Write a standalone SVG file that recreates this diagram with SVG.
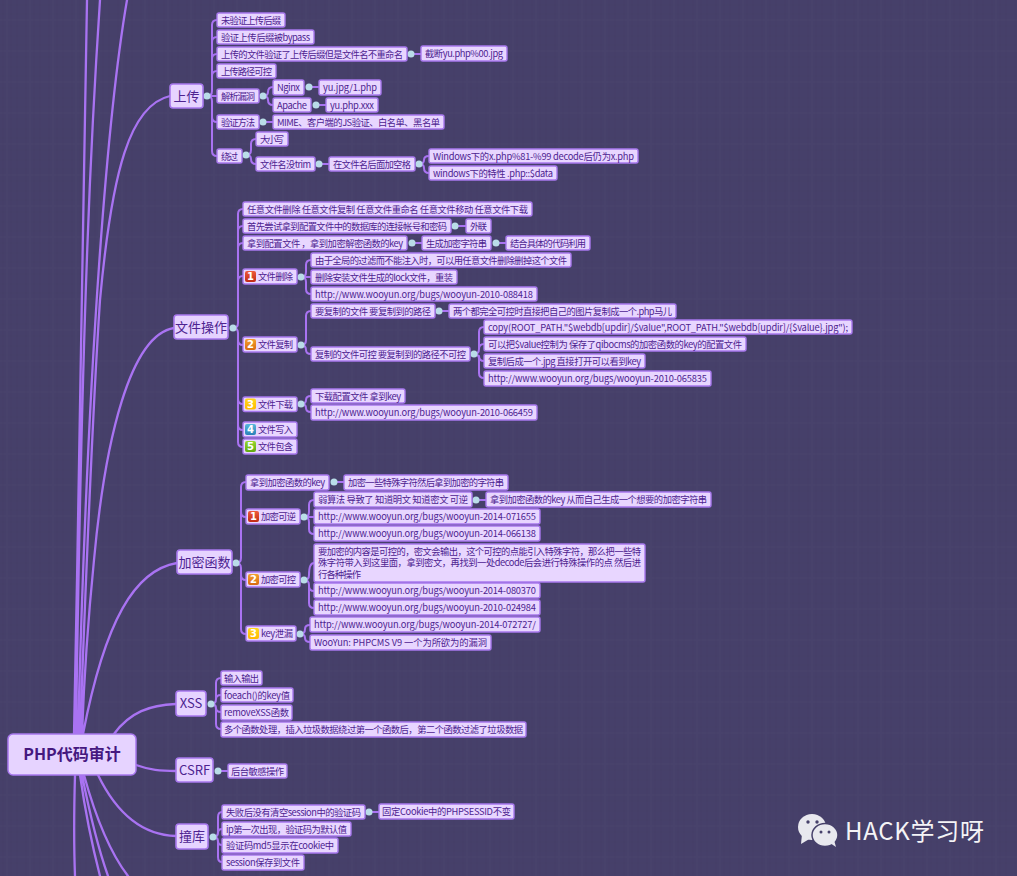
<svg xmlns="http://www.w3.org/2000/svg" width="1017" height="876" viewBox="0 0 1017 876">
<style>
text{font-family:"Noto Sans CJK SC","DejaVu Sans",sans-serif;fill:#4d2390;font-size:9.300px}
.n rect{fill:#e8d6ff;stroke:#a878ee;stroke-width:1.400}
.m rect{fill:#e6d3ff;stroke:#a878ee;stroke-width:1.600}
.m text{font-size:13px;text-anchor:middle}
.c{fill:none;stroke:#a973f2;stroke-width:2;stroke-linecap:round}
.t{stroke-width:2.300}
.d{fill:#b9dde8}
.n .k{stroke:none}
.i text{fill:#fff;font-size:10px;font-weight:700;text-anchor:middle;font-family:"DejaVu Sans",sans-serif}
.i text.l{fill:#4d2390;font-size:9.300px;font-weight:400;text-anchor:start;font-family:"Noto Sans CJK SC",sans-serif}
.n .g1{fill:url(#g1)}.n .g2{fill:url(#g2)}.n .g3{fill:url(#g3)}.n .g4{fill:url(#g4)}.n .g5{fill:url(#g5)}
</style>
<defs>
<pattern id="w1" width="23" height="31" patternUnits="userSpaceOnUse">
<path d="M3 0V31M11 0V31M17 0V31" stroke="#3e3860" stroke-width="1" opacity=".2"/>
<path d="M0 5H23M0 14H23M0 26H23" stroke="#3e3860" stroke-width="1" opacity=".18"/>
<path d="M7 0V31M0 20H23" stroke="#544e78" stroke-width="1" opacity=".18"/>
</pattern>
<linearGradient id="g1" x1="0" y1="0" x2="0" y2="1"><stop offset="0" stop-color="#ee5a3c"/><stop offset="1" stop-color="#c02a14"/></linearGradient>
<linearGradient id="g2" x1="0" y1="0" x2="0" y2="1"><stop offset="0" stop-color="#f2a030"/><stop offset="1" stop-color="#d86a10"/></linearGradient>
<linearGradient id="g3" x1="0" y1="0" x2="0" y2="1"><stop offset="0" stop-color="#ffd820"/><stop offset="1" stop-color="#ffb800"/></linearGradient>
<linearGradient id="g4" x1="0" y1="0" x2="0" y2="1"><stop offset="0" stop-color="#58b8dc"/><stop offset="1" stop-color="#2a80b8"/></linearGradient>
<linearGradient id="g5" x1="0" y1="0" x2="0" y2="1"><stop offset="0" stop-color="#98d830"/><stop offset="1" stop-color="#60a810"/></linearGradient>
</defs>
<rect width="1017" height="876" fill="#46406a"/>
<rect width="1017" height="876" fill="url(#w1)"/>

<g id="connectors">
<path class="c t" d="M87 0C84 120 80 450 74 734M100 0C92 120 82 300 76 734M127 0C108 110 88 350 78 734M170 96C130 105 112 170 100 300C92 420 85 600 80 734M174 328C130 335 105 440 94 560C88 620 84 680 82 734M177 563C135 570 105 620 83 734M176 704C150 705 130 712 114 734M136 765C150 770 160 771 176 771M98 775C115 810 140 835 176 836M75 775C74 810 74 850 75 876M80 775C85 810 92 845 100 876M82 775C89 810 97 845 108 876M84 775C95 815 108 850 128 876"/>
<path class="c" d="M207 96H217M207 96Q212 96 212 91V25Q212 20 217 20M212 42Q212 37 217 37M212 59Q212 54 217 54M212 76Q212 71 217 71M207 96Q212 96 212 101V151Q212 156 217 156M212 117Q212 122 217 122"/>
<path class="c" d="M263 96Q268 96 268 92Q268 87 273 87M263 96Q268 96 268 100Q268 105 273 105M309 87H319M316 105H326M411 54H421M263 122H273M319 164H329"/>
<path class="c" d="M246 155Q251 155 251 150V144Q251 139 256 139M246 155Q251 155 251 159Q251 164 256 164M419 164Q424 164 424 160Q424 156 429 156M419 164Q424 164 424 168Q424 173 429 173"/>
<path class="c" d="M233 328Q238 328 238 323V214Q238 209 243 209M238 231Q238 226 243 226M238 248Q238 243 243 243M238 281Q238 276 243 276M233 328Q238 328 238 333V442Q238 447 243 447M238 340Q238 345 243 345M238 399Q238 404 243 404M238 425Q238 430 243 430"/>
<path class="c" d="M455 226H466M412 243H422M496 243H506"/>
<path class="c" d="M301 277Q306 277 306 272V265Q306 260 311 260M301 277H311M301 277Q306 277 306 282V289Q306 294 311 294"/>
<path class="c" d="M301 345Q306 345 306 340V316Q306 311 311 311M301 345Q306 345 306 350Q306 354 311 354M439 311H449"/>
<path class="c" d="M474 354Q479 354 479 349V332Q479 327 484 327M479 349Q479 344 484 344M479 356Q479 361 484 361M474 354Q479 354 479 359V373Q479 378 484 378"/>
<path class="c" d="M301 404Q306 404 306 400Q306 396 311 396M301 404Q306 404 306 408Q306 412 311 412"/>
<path class="c" d="M236 563Q241 563 241 558V487Q241 482 246 482M241 512Q241 517 246 517M236 563Q241 563 241 568V629Q241 634 246 634M241 575Q241 580 246 580M334 482H344M476 500H486"/>
<path class="c" d="M304 517Q309 517 309 512V505Q309 500 314 500M304 517H314M304 517Q309 517 309 522V529Q309 534 314 534"/>
<path class="c" d="M304 580Q309 580 309 575Q309 563 314 563M304 580Q309 580 309 585V586Q309 591 314 591M309 585V603Q309 608 314 608"/>
<path class="c" d="M300 634Q305 634 305 629Q305 625 310 625M300 634Q305 634 305 638Q305 642 310 642"/>
<path class="c" d="M211 704Q216 704 216 699V683Q216 678 221 678M211 704Q216 704 216 699Q216 695 221 695M211 704Q216 704 216 708Q216 712 221 712M211 704Q216 704 216 709V724Q216 729 221 729M218 771H228"/>
<path class="c" d="M213 837Q218 837 218 832V817Q218 812 222 812M213 837Q218 837 218 833Q218 829 222 829M213 837Q218 837 218 841Q218 845 222 845M213 837Q218 837 218 842V857Q218 862 222 862M369 812H379"/>
<g class="d"><circle cx="207" cy="96" r="3.500"/><circle cx="263" cy="96" r="3.500"/><circle cx="309" cy="87" r="3.500"/><circle cx="316" cy="105" r="3.500"/><circle cx="411" cy="54" r="3.500"/><circle cx="263" cy="122" r="3.500"/><circle cx="246" cy="155" r="3.500"/><circle cx="319" cy="164" r="3.500"/><circle cx="419" cy="164" r="3.500"/><circle cx="233" cy="328" r="3.500"/><circle cx="455" cy="226" r="3.500"/><circle cx="412" cy="243" r="3.500"/><circle cx="496" cy="243" r="3.500"/><circle cx="301" cy="277" r="3.500"/><circle cx="301" cy="345" r="3.500"/><circle cx="439" cy="311" r="3.500"/><circle cx="474" cy="354" r="3.500"/><circle cx="301" cy="404" r="3.500"/><circle cx="236" cy="563" r="3.500"/><circle cx="334" cy="482" r="3.500"/><circle cx="304" cy="517" r="3.500"/><circle cx="476" cy="500" r="3.500"/><circle cx="304" cy="580" r="3.500"/><circle cx="300" cy="634" r="3.500"/><circle cx="211" cy="704" r="3.500"/><circle cx="218" cy="771" r="3.500"/><circle cx="213" cy="837" r="3.500"/><circle cx="369" cy="812" r="3.500"/></g>
</g>

<g id="root"><rect x="8" y="734" width="128" height="41" rx="5" fill="#e6d3ff" stroke="#a878ee" stroke-width="1.5"/><text x="72" y="760" style="font-size:16px;font-weight:700;text-anchor:middle;fill:#45187f">PHP代码审计</text></g>

<g class="m" id="m1"><rect x="170" y="84" width="33" height="24" rx="3"/><text x="186.500" y="100.500">上传</text></g>
<g class="m" id="m2"><rect x="174" y="315" width="54" height="24" rx="3"/><text x="201" y="332">文件操作</text></g>
<g class="m" id="m3"><rect x="177" y="550" width="55" height="24" rx="3"/><text x="204.500" y="567">加密函数</text></g>
<g class="m" id="m4"><rect x="176" y="691" width="30" height="25" rx="3"/><text x="191" y="708">XSS</text></g>
<g class="m" id="m5"><rect x="176" y="758" width="37" height="24" rx="3"/><text x="194.500" y="775">CSRF</text></g>
<g class="m" id="m6"><rect x="176" y="824" width="32" height="25" rx="3"/><text x="192" y="841">撞库</text></g>

<g class="n" id="a1"><rect x="217" y="13" width="68" height="14" rx="2"/><text x="221" y="23.500" textLength="60">未验证上传后缀</text></g>
<g class="n" id="a2"><rect x="217" y="30" width="97" height="14" rx="2"/><text x="221" y="40.500" textLength="89">验证上传后缀被bypass</text></g>
<g class="n" id="a3"><rect x="217" y="47" width="190" height="14" rx="2"/><text x="221" y="57.500" textLength="182">上传的文件验证了上传后缀但是文件名不重命名</text></g>
<g class="n" id="a4"><rect x="421" y="46" width="86" height="15" rx="2"/><text x="425" y="57" textLength="78">截断yu.php%00.jpg</text></g>
<g class="n" id="a5"><rect x="217" y="64" width="59" height="14" rx="2"/><text x="221" y="74.500" textLength="51">上传路径可控</text></g>
<g class="n" id="a6"><rect x="217" y="89" width="42" height="14" rx="2"/><text x="221" y="99.500" textLength="34">解析漏洞</text></g>
<g class="n" id="a7"><rect x="273" y="80" width="31" height="15" rx="2"/><text x="277" y="91" textLength="23">Nginx</text></g>
<g class="n" id="a8"><rect x="319" y="80" width="62" height="15" rx="2"/><text x="323" y="91" textLength="54">yu.jpg/1.php</text></g>
<g class="n" id="a9"><rect x="273" y="98" width="38" height="14" rx="2"/><text x="277" y="108.500" textLength="30">Apache</text></g>
<g class="n" id="a10"><rect x="326" y="98" width="52" height="14" rx="2"/><text x="330" y="108.500" textLength="44">yu.php.xxx</text></g>
<g class="n" id="a11"><rect x="217" y="115" width="42" height="14" rx="2"/><text x="221" y="125.500" textLength="34">验证方法</text></g>
<g class="n" id="a12"><rect x="273" y="115" width="171" height="14" rx="2"/><text x="277" y="125.500" textLength="163">MIME、客户端的JS验证、白名单、黑名单</text></g>
<g class="n" id="a13"><rect x="217" y="149" width="25" height="14" rx="2"/><text x="221" y="159.500" textLength="17">绕过</text></g>
<g class="n" id="a14"><rect x="256" y="132" width="32" height="14" rx="2"/><text x="260" y="142.500" textLength="24">大小写</text></g>
<g class="n" id="a15"><rect x="256" y="157" width="59" height="14" rx="2"/><text x="260" y="167.500" textLength="51">文件名没trim</text></g>
<g class="n" id="a16"><rect x="329" y="157" width="86" height="14" rx="2"/><text x="333" y="167.500" textLength="78">在文件名后面加空格</text></g>
<g class="n" id="a17"><rect x="429" y="149" width="209" height="14" rx="2"/><text x="433" y="159.500" textLength="201">Windows下的x.php%81-%99 decode后仍为x.php</text></g>
<g class="n" id="a18"><rect x="429" y="166" width="128" height="14" rx="2"/><text x="433" y="176.500" textLength="120">windows下的特性 .php::$data</text></g>

<g class="n" id="b1"><rect x="243" y="202" width="289" height="14" rx="2"/><text x="247" y="212.500" textLength="281">任意文件删除 任意文件复制 任意文件重命名 任意文件移动 任意文件下载</text></g>
<g class="n" id="b2"><rect x="243" y="219" width="208" height="14" rx="2"/><text x="247" y="229.500" textLength="200">首先尝试拿到配置文件中的数据库的连接帐号和密码</text></g>
<g class="n" id="b3"><rect x="466" y="219" width="25" height="14" rx="2"/><text x="470" y="229.500" textLength="17">外联</text></g>
<g class="n" id="b4"><rect x="243" y="236" width="164" height="14" rx="2"/><text x="247" y="246.500" textLength="156">拿到配置文件 ，拿到加密解密函数的key</text></g>
<g class="n" id="b5"><rect x="422" y="236" width="69" height="14" rx="2"/><text x="426" y="246.500" textLength="61">生成加密字符串</text></g>
<g class="n" id="b6"><rect x="506" y="236" width="84" height="14" rx="2"/><text x="510" y="246.500" textLength="76">结合具体的代码利用</text></g>
<g class="n i" id="b7"><rect x="243" y="269" width="54" height="15" rx="2"/><rect class="k g1" x="245" y="271" width="11" height="11" rx="2"/><text x="250.500" y="280">1</text><text class="l" x="258" y="280" textLength="35">文件删除</text></g>
<g class="n" id="b8"><rect x="311" y="253" width="260" height="14" rx="2"/><text x="315" y="263.500" textLength="252">由于全局的过滤而不能注入时，可以用任意文件删除删掉这个文件</text></g>
<g class="n" id="b9"><rect x="311" y="270" width="146" height="14" rx="2"/><text x="315" y="280.500" textLength="138">删除安装文件生成的lock文件，重装</text></g>
<g class="n" id="b10"><rect x="311" y="287" width="226" height="14" rx="2"/><text x="315" y="297.500" textLength="218">http://www.wooyun.org/bugs/wooyun-2010-088418</text></g>
<g class="n i" id="b11"><rect x="243" y="337" width="54" height="15" rx="2"/><rect class="k g2" x="245" y="339" width="11" height="11" rx="2"/><text x="250.500" y="348">2</text><text class="l" x="258" y="348" textLength="35">文件复制</text></g>
<g class="n" id="b12"><rect x="311" y="304" width="124" height="14" rx="2"/><text x="315" y="314.500" textLength="116">要复制的文件 要复制到的路径</text></g>
<g class="n" id="b13"><rect x="449" y="304" width="227" height="14" rx="2"/><text x="453" y="314.500" textLength="219">两个都完全可控时直接把自己的图片复制成一个.php马儿</text></g>
<g class="n" id="b14"><rect x="311" y="347" width="159" height="14" rx="2"/><text x="315" y="357.500" textLength="151">复制的文件可控 要复制到的路径不可控</text></g>
<g class="n" id="b15"><rect x="484" y="320" width="368" height="14" rx="2"/><text x="488" y="330.500" textLength="360">copy(ROOT_PATH."$webdb[updir]/$value",ROOT_PATH."$webdb[updir]/{$value}.jpg");</text></g>
<g class="n" id="b16"><rect x="484" y="337" width="262" height="14" rx="2"/><text x="488" y="347.500" textLength="254">可以把$value控制为 保存了qibocms的加密函数的key的配置文件</text></g>
<g class="n" id="b17"><rect x="484" y="354" width="161" height="14" rx="2"/><text x="488" y="364.500" textLength="153">复制后成一个.jpg 直接打开可以看到key</text></g>
<g class="n" id="b18"><rect x="484" y="371" width="227" height="15" rx="2"/><text x="488" y="382" textLength="219">http://www.wooyun.org/bugs/wooyun-2010-065835</text></g>
<g class="n i" id="b19"><rect x="243" y="397" width="54" height="14.500" rx="2"/><rect class="k g3" x="245" y="398.500" width="11" height="11" rx="2"/><text x="250.500" y="407.500">3</text><text class="l" x="258" y="408" textLength="35">文件下载</text></g>
<g class="n" id="b20"><rect x="311" y="389" width="94" height="14" rx="2"/><text x="315" y="399.500" textLength="86">下载配置文件 拿到key</text></g>
<g class="n" id="b21"><rect x="311" y="405" width="226" height="15" rx="2"/><text x="315" y="416" textLength="218">http://www.wooyun.org/bugs/wooyun-2010-066459</text></g>
<g class="n i" id="b22"><rect x="243" y="422" width="54" height="15" rx="2"/><rect class="k g4" x="245" y="424" width="11" height="11" rx="2"/><text x="250.500" y="433">4</text><text class="l" x="258" y="433" textLength="35">文件写入</text></g>
<g class="n i" id="b23"><rect x="243" y="439" width="54" height="15" rx="2"/><rect class="k g5" x="245" y="441" width="11" height="11" rx="2"/><text x="250.500" y="450">5</text><text class="l" x="258" y="450" textLength="35">文件包含</text></g>

<g class="n" id="c1"><rect x="246" y="475" width="83" height="15" rx="2"/><text x="250" y="486" textLength="75">拿到加密函数的key</text></g>
<g class="n" id="c2"><rect x="344" y="475" width="164" height="15" rx="2"/><text x="348" y="486" textLength="156">加密一些特殊字符然后拿到加密的字符串</text></g>
<g class="n i" id="c3"><rect x="246" y="509" width="54" height="15" rx="2"/><rect class="k g1" x="248" y="511" width="11" height="11" rx="2"/><text x="253.500" y="520">1</text><text class="l" x="261" y="520" textLength="35">加密可逆</text></g>
<g class="n" id="c4"><rect x="314" y="492" width="158" height="15" rx="2"/><text x="318" y="503" textLength="150">弱算法 导致了 知道明文 知道密文 可逆</text></g>
<g class="n" id="c5"><rect x="486" y="492" width="225" height="15" rx="2"/><text x="490" y="503" textLength="217">拿到加密函数的key 从而自己生成一个想要的加密字符串</text></g>
<g class="n" id="c6"><rect x="314" y="509" width="226" height="15" rx="2"/><text x="318" y="520" textLength="218">http://www.wooyun.org/bugs/wooyun-2014-071655</text></g>
<g class="n" id="c7"><rect x="314" y="526" width="226" height="15" rx="2"/><text x="318" y="537" textLength="218">http://www.wooyun.org/bugs/wooyun-2014-066138</text></g>
<g class="n" id="c8"><rect x="314" y="544" width="331" height="38" rx="2"/><text><tspan x="318" y="554.500" textLength="323">要加密的内容是可控的，密文会输出，这个可控的点能引入特殊字符，那么把一些特</tspan><tspan x="318" y="566" textLength="323">殊字符带入到这里面，拿到密文，再找到一处decode后会进行特殊操作的点 然后进</tspan><tspan x="318" y="578" textLength="43">行各种操作</tspan></text></g>
<g class="n i" id="c9"><rect x="246" y="572" width="54" height="15" rx="2"/><rect class="k g2" x="248" y="574" width="11" height="11" rx="2"/><text x="253.500" y="583">2</text><text class="l" x="261" y="583" textLength="35">加密可控</text></g>
<g class="n" id="c10"><rect x="314" y="583" width="226" height="15" rx="2"/><text x="318" y="594" textLength="218">http://www.wooyun.org/bugs/wooyun-2014-080370</text></g>
<g class="n" id="c11"><rect x="314" y="600" width="226" height="15" rx="2"/><text x="318" y="611" textLength="218">http://www.wooyun.org/bugs/wooyun-2010-024984</text></g>
<g class="n i" id="c12"><rect x="246" y="626" width="50" height="15" rx="2"/><rect class="k g3" x="248" y="628" width="11" height="11" rx="2"/><text x="253.500" y="637">3</text><text class="l" x="261" y="637" textLength="32">key泄漏</text></g>
<g class="n" id="c13"><rect x="310" y="617" width="230" height="15" rx="2"/><text x="314" y="628" textLength="222">http://www.wooyun.org/bugs/wooyun-2014-072727/</text></g>
<g class="n" id="c14"><rect x="310" y="635" width="181" height="15" rx="2"/><text x="314" y="646" textLength="173">WooYun: PHPCMS V9 一个为所欲为的漏洞</text></g>

<g class="n" id="d1"><rect x="221" y="671" width="41" height="14" rx="2"/><text x="224" y="681.500" textLength="35">输入输出</text></g>
<g class="n" id="d2"><rect x="221" y="688" width="72" height="14" rx="2"/><text x="224" y="698.500" textLength="66">foeach()的key值</text></g>
<g class="n" id="d3"><rect x="221" y="705" width="71" height="15" rx="2"/><text x="224" y="716" textLength="65">removeXSS函数</text></g>
<g class="n" id="d4"><rect x="221" y="722" width="305" height="15" rx="2"/><text x="224" y="733" textLength="299">多个函数处理，插入垃圾数据绕过第一个函数后，第二个函数过滤了垃圾数据</text></g>
<g class="n" id="e1"><rect x="228" y="764" width="59" height="14" rx="2"/><text x="231" y="774.500" textLength="53">后台敏感操作</text></g>
<g class="n" id="f1"><rect x="222" y="805" width="143" height="14" rx="2"/><text x="226" y="815.500" textLength="135">失败后没有清空session中的验证码</text></g>
<g class="n" id="f2"><rect x="379" y="804" width="135" height="15" rx="2"/><text x="382" y="815" textLength="129">固定Cookie中的PHPSESSID不变</text></g>
<g class="n" id="f3"><rect x="222" y="822" width="129" height="14" rx="2"/><text x="226" y="832.500" textLength="121">ip第一次出现，验证码为默认值</text></g>
<g class="n" id="f4"><rect x="222" y="838" width="116" height="15" rx="2"/><text x="226" y="849" textLength="108">验证码md5显示在cookie中</text></g>
<g class="n" id="f5"><rect x="222" y="855" width="82" height="15" rx="2"/><text x="226" y="866" textLength="74">session保存到文件</text></g>

<g id="watermark">
<ellipse cx="812" cy="827" rx="14" ry="13" fill="#e8e8ee"/><path d="M802 834L801 844L811 838Z" fill="#e8e8ee"/>
<circle cx="808" cy="822" r="1.700" fill="#46406a"/><circle cx="817" cy="822" r="1.700" fill="#46406a"/>
<ellipse cx="825" cy="835" rx="13" ry="11.500" stroke="#46406a" stroke-width="1.500" fill="#e8e8ee"/><path d="M830 843L836 847L834 840Z" fill="#e8e8ee"/>
<circle cx="821" cy="832" r="1.500" fill="#46406a"/><circle cx="829" cy="832" r="1.500" fill="#46406a"/>
<text x="845" y="840" textLength="139" style="font-size:24px;fill:#f4f4f6;font-family:'Noto Sans CJK SC','Noto Sans',sans-serif">HACK学习呀</text>
</g>
</svg>
